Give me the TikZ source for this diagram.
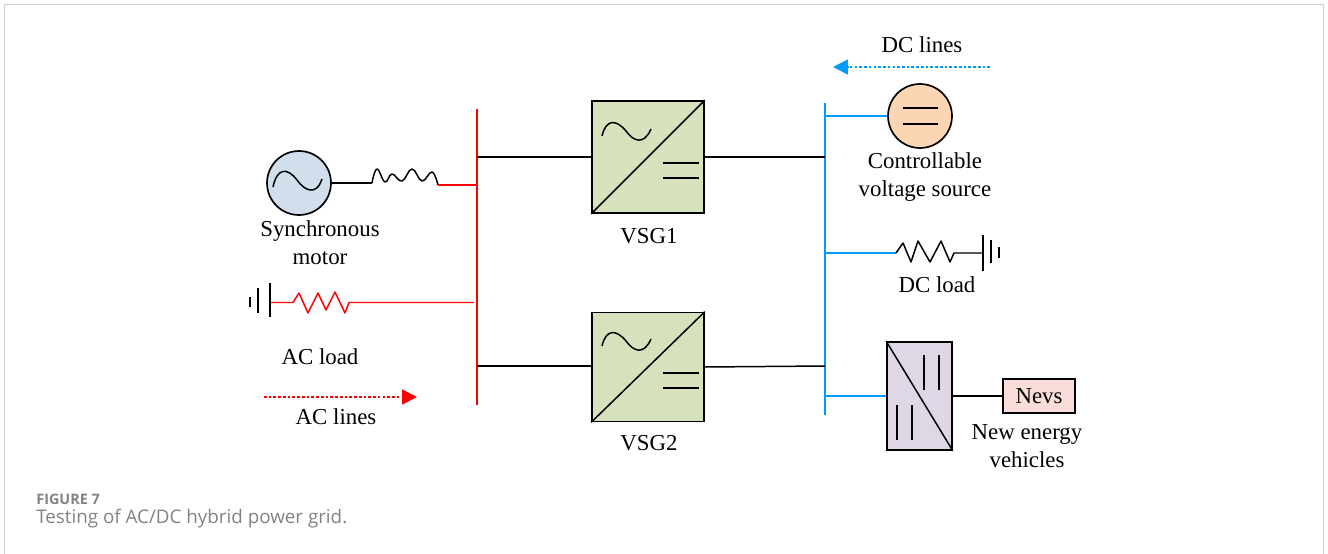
\documentclass[tikz,border=0pt]{standalone}
\usepackage{fontspec}
\setmainfont{Liberation Serif}
\newfontfamily\capfont{Open Sans}
\usepackage{xcolor}
\usetikzlibrary{arrows.meta, positioning}
\definecolor{acred}{RGB}{255,0,0}
\definecolor{dcblue}{RGB}{0,153,255}
\definecolor{capgray}{RGB}{130,130,130}
\definecolor{framegray}{RGB}{205,205,205}
\definecolor{vsggreen}{RGB}{213,226,188}
\definecolor{motorblue}{RGB}{209,222,236}
\definecolor{sourceorange}{RGB}{252,213,180}
\definecolor{dcdcpurple}{RGB}{224,215,230}
\definecolor{nevpink}{RGB}{250,220,216}

\begin{document}
\begin{tikzpicture}[
    x=0.02cm, y=-0.02cm,
    wire/.style={line width=0.85pt, black, line join=round},
    acwire/.style={line width=0.85pt, acred, line join=round},
    dcwire/.style={line width=0.85pt, dcblue},
    busbar/.style={line width=0.95pt},
    plate/.style={line width=0.85pt, black},
    convbox/.style={draw, line width=0.95pt, inner sep=0pt},
    roundsrc/.style={draw, circle, line width=0.95pt, minimum size=1.28cm, inner sep=0pt},
    lbl/.style={font=\fontsize{13}{15.9}\selectfont, align=center, inner sep=0pt},
    flowarrow/.style={line width=1pt, dash pattern=on 1.5pt off 1.2pt, -{Triangle[length=8.5pt,width=8.5pt]}}
]
\useasboundingbox (0,0) rectangle (1328,554);
\draw[framegray, line width=0.8pt] (4.5,554) -- (4.5,4.5) -- (1323.5,4.5) -- (1323.5,554);

% ====================== BUSES ======================
\coordinate (actop) at (477,109);
\coordinate (acbot) at (477,405);
\coordinate (dctop) at (825,103);
\coordinate (dcbot) at (825,415);
\draw[busbar, acred] (actop) -- (acbot);
\draw[busbar, dcblue] (dctop) -- (dcbot);

% ====================== CONVERTERS ======================
\node[convbox, fill=vsggreen, minimum width=2.24cm, minimum height=2.24cm] (vsg1) at (648,157) {};
\node[convbox, fill=vsggreen, minimum width=2.24cm, minimum height=2.18cm] (vsg2) at (648,367) {};
\foreach \conv in {vsg1, vsg2} {
    \draw[wire] (\conv.south west) -- (\conv.north east);
    \begin{scope}[shift={(\conv.center)}]
        \draw[wire] (-46,-21) .. controls (-42,-38) and (-32,-38) .. (-22,-26)
            .. controls (-14,-15) and (-4,-12) .. (3,-28);
        \draw[wire] (15,6) -- (51,6);
        \draw[wire] (15,21) -- (51,21);
    \end{scope}
}
\node[lbl] (vsg1lbl) at (649,236) {VSG1};
\node[lbl] (vsg2lbl) at (649,443) {VSG2};

\node[convbox, fill=dcdcpurple, minimum width=1.3cm, minimum height=2.16cm] (dcdc) at (919.5,396) {};
\draw[wire] (dcdc.north west) -- (dcdc.south east);
\draw[wire] (924,355) -- (924,390);
\draw[wire] (939,355) -- (939,390);
\draw[wire] (897,405) -- (897,440);
\draw[wire] (912,405) -- (912,440);

% ====================== SOURCES ======================
\node[roundsrc, fill=motorblue] (motor) at (299,183) {};
\draw[wire] (273,187) .. controls (277,168) and (287,167) .. (297,180)
    .. controls (304,190) and (316,197) .. (322,179);
\node[lbl] (motorlbl) at (320,243) {Synchronous\\motor};

\node[roundsrc, fill=sourceorange] (vsrc) at (920,116) {};
\draw[wire] (903,108) -- (938,108);
\draw[wire] (903,124) -- (938,124);
\node[lbl] (vsrclbl) at (925,177) {Controllable\\voltage source};

% ====================== LOADS ======================
\coordinate (indin) at (372,183);
\coordinate (indout) at (438,185);
\draw[wire] (motor) -- (indin);
\draw[wire] plot[smooth, tension=0.7] coordinates {(indin) (377,169) (385,182) (392,174) (402,181) (412,169) (422,181) (432,172) (indout)};
\draw[acwire] (indout) -- (477,185);

\coordinate (aclhs) at (270,302.5);
\coordinate (acres) at (349,302.5);
\draw[acwire] (aclhs) -- (293,302.5) -- (299,293) -- (308,313) -- (318,293) -- (326,310) -- (335,292) -- (345,313) -- (acres) -- (474,302.5);
\draw[plate] (270,283) -- (270,317);
\draw[plate] (258,288) -- (258,313);
\draw[plate] (250,297) -- (250,307);
\node[lbl] (acload) at (320,357) {AC load};

\coordinate (dcres) at (896,253);
\coordinate (dcgnd) at (983,253);
\draw[dcwire] (825,253) -- (dcres);
\draw[wire] (dcres) -- (903,243) -- (911,262) -- (918,241) -- (930,262) -- (941,241) -- (950,262) -- (954,253) -- (dcgnd);
\draw[plate] (983,235) -- (983,271);
\draw[plate] (991,240) -- (991,263);
\draw[plate] (999,247) -- (999,258);
\node[lbl] (dcload) at (937,285) {DC load};

\node[draw, line width=0.95pt, fill=nevpink, minimum width=1.44cm, minimum height=0.68cm, inner sep=0pt, lbl] (nevs) at (1039,396) {Nevs};
\node[lbl] (nevslbl) at (1027,446) {New energy\\vehicles};

% ====================== WIRES ======================
\draw[wire] (477,366) -- (592,366);
\draw[wire] (477,157) -- (vsg1.west);
\draw[wire] (vsg1.east) -- (825,157);
\draw[wire] (vsg2.east) -- (825,366);
\draw[dcwire] (825,116) -- (vsrc.west);
\draw[dcwire] (825,396) -- (dcdc.west);
\draw[wire] (dcdc.east) -- (nevs.west);

% ====================== LEGEND ======================
\coordinate (acfrom) at (264,397);
\coordinate (acto) at (417,397);
\coordinate (dcfrom) at (990,67);
\coordinate (dcto) at (833,67);
\draw[flowarrow, acred] (acfrom) -- (acto);
\draw[flowarrow, dcblue] (dcfrom) -- (dcto);
\node[lbl] (aclines) at (336,417) {AC lines};
\node[lbl] (dclines) at (922,45) {DC lines};

% ====================== CAPTION ======================
\node[font=\capfont\bfseries\fontsize{8.2}{10}\selectfont, text=capgray, anchor=west, inner sep=0pt] (figno) at (36,499) {FIGURE 7};
\node[font=\capfont\fontsize{10.7}{13}\selectfont, text=capgray, anchor=west, inner sep=0pt] (figcap) at (36,519) {Testing of AC/DC hybrid power grid.};
\end{tikzpicture}
\end{document}
